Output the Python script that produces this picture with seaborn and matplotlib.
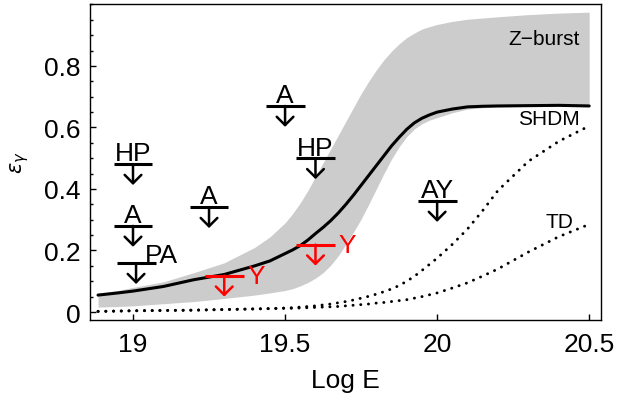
import numpy as np
import pandas as pd
import seaborn as sns
import matplotlib.pyplot as plt
from matplotlib.ticker import FixedLocator, MultipleLocator

# Energy grid (Log E) shared by all curves
log_e = [18.885, 18.95, 19.0, 19.1, 19.2, 19.3, 19.4, 19.45,
         19.5, 19.525, 19.55, 19.575, 19.6, 19.625, 19.65, 19.675, 19.7, 19.725,
         19.75, 19.775, 19.8, 19.825, 19.85, 19.875, 19.9, 19.925, 19.95, 19.975,
         20.0, 20.05, 20.1, 20.15, 20.2, 20.3, 20.4, 20.5]

# SHDM photon fraction (solid)
shdm = [0.055, 0.062, 0.068, 0.083, 0.105, 0.122, 0.150, 0.166,
        0.190, 0.202, 0.216, 0.234, 0.255, 0.275, 0.297, 0.322, 0.350, 0.380,
        0.412, 0.444, 0.476, 0.508, 0.540, 0.568, 0.594, 0.615, 0.630, 0.641,
        0.650, 0.660, 0.667, 0.669, 0.670, 0.671, 0.672, 0.670]

# Z-burst band
zburst_low = [0.016, 0.018, 0.020, 0.027, 0.034, 0.044, 0.055, 0.062,
              0.070, 0.076, 0.085, 0.096, 0.110, 0.128, 0.152, 0.183, 0.220, 0.260,
              0.302, 0.350, 0.400, 0.450, 0.497, 0.537, 0.570, 0.595, 0.612, 0.624,
              0.632, 0.648, 0.660, 0.664, 0.667, 0.669, 0.670, 0.670]
zburst_high = [0.060, 0.070, 0.080, 0.098, 0.128, 0.160, 0.210, 0.244,
               0.290, 0.320, 0.355, 0.395, 0.440, 0.485, 0.530, 0.575, 0.620, 0.665,
               0.710, 0.750, 0.787, 0.820, 0.848, 0.872, 0.892, 0.907, 0.920, 0.928,
               0.935, 0.945, 0.952, 0.956, 0.960, 0.967, 0.972, 0.975]

# dotted curves
shdm_dot = [0.002, 0.003, 0.004, 0.005, 0.006, 0.008, 0.010, 0.011,
            0.013, 0.014, 0.016, 0.018, 0.020, 0.023, 0.026, 0.030, 0.034, 0.039,
            0.045, 0.051, 0.058, 0.066, 0.075, 0.086, 0.100, 0.116, 0.135, 0.155,
            0.175, 0.220, 0.270, 0.330, 0.395, 0.490, 0.555, 0.605]
td_dot = [0.002, 0.003, 0.004, 0.005, 0.006, 0.008, 0.010, 0.011,
          0.012, 0.012, 0.013, 0.014, 0.015, 0.016, 0.017, 0.018, 0.020, 0.022,
          0.024, 0.026, 0.029, 0.031, 0.034, 0.037, 0.040, 0.045, 0.050, 0.056,
          0.062, 0.078, 0.095, 0.117, 0.140, 0.195, 0.245, 0.285]

# experimental upper limits
limit_x = [19.0, 19.0, 19.01, 19.25, 19.5, 19.6, 20.0, 19.3, 19.6]
limit_y = [0.481, 0.280, 0.159, 0.341, 0.670, 0.500, 0.361, 0.118, 0.219]
limit_labels = ['HP', 'A', 'PA', 'A', 'A', 'HP', 'AY', 'Y', 'Y']
limit_colors = ['black'] * 7 + ['red'] * 2

df = pd.DataFrame({'logE': log_e, 'shdm': shdm, 'low': zburst_low,
                   'high': zburst_high, 'shdm_dot': shdm_dot, 'td': td_dot})

sns.set_style('ticks')
plt.rcParams['font.family'] = ['Liberation Sans', 'DejaVu Sans']
plt.rcParams['mathtext.fontset'] = 'dejavusans'
for k in ['text.color', 'axes.labelcolor', 'xtick.color', 'ytick.color', 'axes.edgecolor']:
    plt.rcParams[k] = 'black'

fig = plt.figure(figsize=(6.19, 4.02), dpi=100)
ax = fig.add_axes([0.1454, 0.2015, 0.8256, 0.7861])

ax.fill_between(df['logE'], df['low'], df['high'], color='#cccccc', lw=0)
sns.lineplot(data=df, x='logE', y='shdm', ax=ax, color='black', lw=2.2)
dots = (0, (0.05, 2.6))
sns.lineplot(data=df, x='logE', y='shdm_dot', ax=ax, color='black', lw=2.1,
             linestyle=dots, dash_capstyle='round')
sns.lineplot(data=df, x='logE', y='td', ax=ax, color='black', lw=2.1,
             linestyle=dots, dash_capstyle='round')

# upper limits: bar + downward arrow + label
for x, y, lab, c in zip(limit_x, limit_y, limit_labels, limit_colors):
    ax.plot([x - 0.064, x + 0.064], [y, y], color=c, lw=2.2, solid_capstyle='butt')
    ax.annotate('', xy=(x, y - 0.068), xytext=(x, y),
                arrowprops=dict(arrowstyle='->,head_length=0.3,head_width=0.3',
                                color=c, lw=1.8, shrinkA=0, shrinkB=0,
                                mutation_scale=20))
    if lab == 'Y':
        ax.text(x + 0.075, y, lab, color=c, fontsize=19, ha='left', va='center')
    elif lab == 'PA':
        ax.text(x + 0.03, y + 0.004, lab, color=c, fontsize=19, ha='left', va='baseline')
    else:
        ax.text(x, y + 0.012, lab, color=c, fontsize=19, ha='center', va='baseline')

ax.text(20.47, 0.888, 'Z\u2212burst', fontsize=15, ha='right', va='center')
ax.text(20.47, 0.628, 'SHDM', fontsize=15, ha='right', va='center')
ax.text(20.447, 0.293, 'TD', fontsize=15, ha='right', va='center')

ax.set_xlim(18.8586, 20.539)
ax.set_ylim(-0.026, 1.0016)
ax.xaxis.set_major_locator(FixedLocator([19, 19.5, 20, 20.5]))
ax.set_xticklabels(['19', '19.5', '20', '20.5'])
ax.yaxis.set_major_locator(FixedLocator([0, 0.2, 0.4, 0.6, 0.8]))
ax.set_yticklabels(['0', '0.2', '0.4', '0.6', '0.8'])
ax.yaxis.set_minor_locator(MultipleLocator(0.05))
ax.tick_params(axis='both', which='major', direction='in', length=4, width=1,
               labelsize=19, color='black')
ax.tick_params(axis='x', pad=8.5)
ax.tick_params(axis='y', pad=7)
ax.tick_params(axis='y', which='minor', direction='in', length=2.5, width=1)
for s in ax.spines.values():
    s.set_linewidth(1.0)
    s.set_color('black')

ax.set_xlabel('Log E', fontsize=19, labelpad=9)
ax.set_ylabel(r'$\epsilon_\gamma$', fontsize=15, labelpad=9)

fig.savefig('out.png', dpi=100)
